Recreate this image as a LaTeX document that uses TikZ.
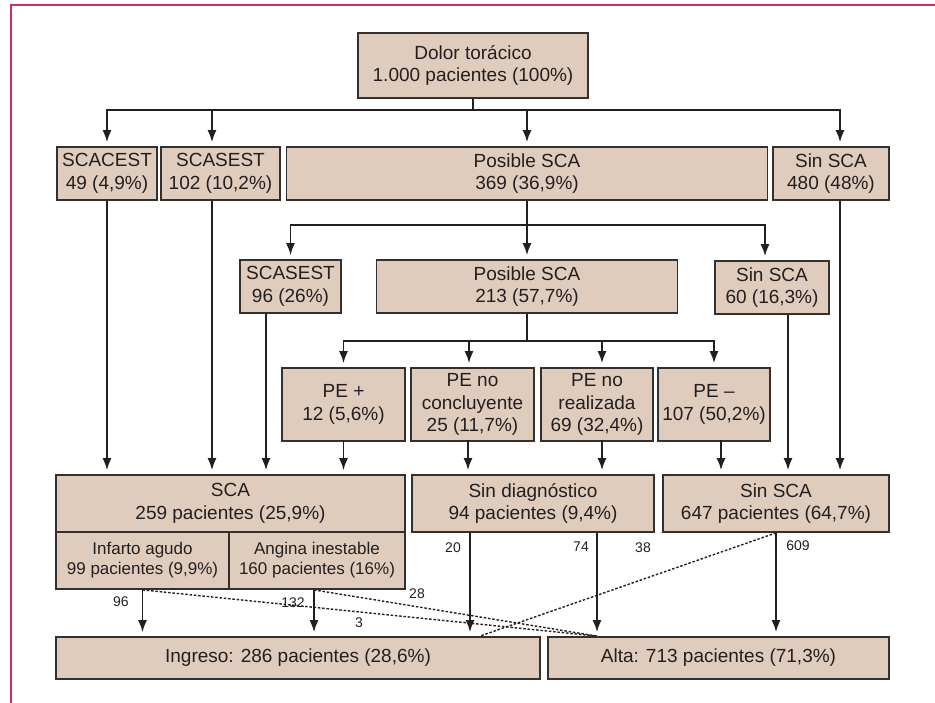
\documentclass[tikz,border=0pt]{standalone}
\usepackage{fontspec}
\setmainfont{Liberation Sans}
\usetikzlibrary{arrows.meta}
\definecolor{boxfill}{RGB}{223,204,189}
\definecolor{boxline}{RGB}{52,48,48}
\definecolor{flowline}{RGB}{35,31,32}
\definecolor{framered}{RGB}{212,45,92}
\tikzstyle{box}=[draw=boxline,line width=1.8pt,fill=boxfill,inner sep=0pt,align=center,text=flowline,font=\fontsize{19}{22.5}\selectfont]
\tikzstyle{subbox}=[box,font=\fontsize{17}{20}\selectfont]
\tikzstyle{flow}=[draw=flowline,line width=1.6pt]
\tikzstyle{arr}=[flow,-{Latex[length=12pt,width=9pt]},shorten >=4pt]
\tikzstyle{dotflow}=[draw=flowline,line width=1.4pt,dash pattern=on 2.5pt off 1.8pt]
\tikzstyle{count}=[inner sep=0pt,text=flowline,font=\fontsize{14}{16}\selectfont]

\begin{document}
\begin{tikzpicture}[x=1pt,y=-1pt]
\useasboundingbox (0,0) rectangle (935,703);
% frame
  \draw[framered,line width=2pt] (11,703) -- (11,5) -- (935,5);
% level 0
  \node[box,minimum width=230,minimum height=65] (dolor) at (473,65.5) {Dolor torácico\\1.000 pacientes (100\%)};
% level 1
  \node[box,minimum width=100,minimum height=53] (scacest)  at (107,173.5) {SCACEST\\49 (4,9\%)};
  \node[box,minimum width=119,minimum height=53] (scasestA) at (220.5,173.5) {SCASEST\\102 (10,2\%)};
  \node[box,minimum width=481,minimum height=53] (posibleA) at (527,173.5) {Posible SCA\\369 (36,9\%)};
  \node[box,minimum width=116,minimum height=53] (sinscaA)  at (831,173.5) {Sin SCA\\480 (48\%)};
% level 2
  \node[box,minimum width=101,minimum height=53] (scasestB) at (290.5,286.5) {SCASEST\\96 (26\%)};
  \node[box,minimum width=301,minimum height=53] (posibleB) at (527,286.5) {Posible SCA\\213 (57,7\%)};
  \node[box,minimum width=114,minimum height=53] (sinscaB)  at (772,287.5) {Sin SCA\\60 (16,3\%)};
% ergometry
  \node[box,minimum width=123,minimum height=73] (pepos)  at (343.5,404.5) {PE +\\12 (5,6\%)};
  \node[box,minimum width=123,minimum height=73] (pencl)  at (472.5,404.5) {PE no\\concluyente\\25 (11,7\%)};
  \node[box,minimum width=112,minimum height=73] (penr)   at (597,404.5) {PE no\\realizada\\69 (32,4\%)};
  \node[box,minimum width=112,minimum height=73] (peneg)  at (714,404.5) {PE --\\107 (50,2\%)};
% diagnosis
  \node[box,minimum width=349,minimum height=57] (sca)     at (230.5,503.5) {SCA\\259 pacientes (25,9\%)};
  \node[subbox,minimum width=173,minimum height=57] (infarto) at (142.5,560.5) {Infarto agudo\\99 pacientes (9,9\%)};
  \node[subbox,minimum width=176,minimum height=57] (angina)  at (317,560.5) {Angina inestable\\160 pacientes (16\%)};
  \node[box,minimum width=242,minimum height=57] (sindiag) at (533,503.5) {Sin diagnóstico\\94 pacientes (9,4\%)};
  \node[box,minimum width=226,minimum height=57] (sinscaC) at (776,503.5) {Sin SCA\\647 pacientes (64,7\%)};
% destination
  \node[box,minimum width=484,minimum height=42] (ingreso) at (298,658) {Ingreso: 286 pacientes (28,6\%)};
  \node[box,minimum width=341,minimum height=42] (alta)    at (718.5,658) {Alta: 713 pacientes (71,3\%)};
% branch points
  \coordinate (brA) at (473,110);
  \coordinate (brB) at (527,225);
  \coordinate (brC) at (527,341);
  \coordinate (sdL) at ([xshift=-63]sindiag.south);
  \coordinate (sdR) at ([xshift=64]sindiag.south);
% connectors
  \draw[flow] (dolor.south) -- (brA);
  \draw[arr] (brA) -| (scacest.north);
  \draw[arr] (brA) -| ([xshift=-8.5]scasestA.north);
  \draw[arr] (brA) -| (posibleA.north);
  \draw[arr] (brA) -| ([xshift=9]sinscaA.north);
  \draw[flow] (posibleA.south) -- (brB);
  \draw[arr] (brB) -| (scasestB.north);
  \draw[arr] (brB) -| (posibleB.north);
  \draw[arr] (brB) -| ([xshift=-7]sinscaB.north);
  \draw[flow] (posibleB.south) -- (brC);
  \draw[arr] (brC) -| (pepos.north);
  \draw[arr] (brC) -| ([xshift=-3.5]pencl.north);
  \draw[arr] (brC) -| ([xshift=5]penr.north);
  \draw[arr] (brC) -| (peneg.north);
  \draw[arr] (scacest.south) -- (scacest.south |- sca.north);
  \draw[arr] ([xshift=-8.5]scasestA.south) -- ([xshift=-8.5]scasestA.south |- sca.north);
  \draw[arr] ([xshift=-24.5]scasestB.south) -- ([xshift=-24.5]scasestB.south |- sca.north);
  \draw[arr] ([yshift=2]pepos.south) -- (pepos.south |- sca.north);
  \draw[arr] ([xshift=-4.5,yshift=2]pencl.south) -- ([xshift=-4.5]pencl.south |- sindiag.north);
  \draw[arr] ([xshift=5,yshift=2]penr.south) -- ([xshift=5]penr.south |- sindiag.north);
  \draw[arr] ([xshift=7,yshift=2]peneg.south) -- ([xshift=7]peneg.south |- sinscaC.north);
  \draw[arr] ([xshift=16]sinscaB.south) -- ([xshift=16]sinscaB.south |- sinscaC.north);
  \draw[arr] ([xshift=9]sinscaA.south) -- ([xshift=9]sinscaA.south |- sinscaC.north);
  \draw[arr] (infarto.south) -- (infarto.south |- ingreso.north);
  \draw[arr] ([xshift=-3]angina.south) -- ([xshift=-3]angina.south |- ingreso.north);
  \draw[arr] (sdL) -- (sdL |- ingreso.north);
  \draw[arr] (sdR) -- (sdR |- alta.north);
  \draw[arr] (sinscaC.south) -- (sinscaC.south |- alta.north);
  \draw[dotflow] (infarto.south) -- (sdR |- alta.north);
  \draw[dotflow] ([xshift=-3]angina.south) -- (sdR |- alta.north);
  \draw[dotflow] (sinscaC.south) -- ([xshift=10]sdL |- ingreso.north);
% counts
  \node[count] (c96)  at (121,602) {96};
  \node[count] (c132) at (293,603) {132};
  \node[count] (c28)  at (417,594) {28};
  \node[count] (c3)   at (359,623) {3};
  \node[count] (c20)  at (453,548) {20};
  \node[count] (c74)  at (581,547) {74};
  \node[count] (c38)  at (643,548) {38};
  \node[count] (c609) at (798,546) {609};
\end{tikzpicture}
\end{document}
